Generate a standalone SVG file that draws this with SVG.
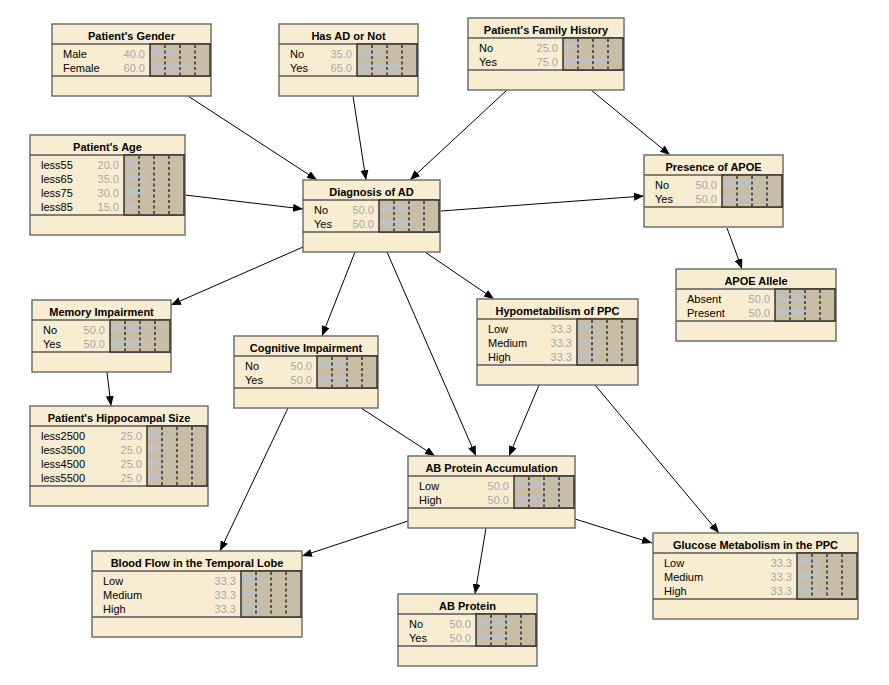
<svg xmlns="http://www.w3.org/2000/svg" width="889" height="685" viewBox="0 0 889 685">
<defs>
<style>
.box{fill:#f8edd1;stroke:#707070;stroke-width:1.5}
.sep{stroke:#5a5a5a;stroke-width:1.5}
.bb{fill:#c8bea6;stroke:#333;stroke-width:1.5}
.bar{fill:#c0c0c0}
.dash{stroke:#333;stroke-width:1.5;stroke-dasharray:3 2.5}
.t{font-family:"Liberation Sans",Arial,sans-serif;font-size:11px;font-weight:bold;fill:#000;text-anchor:middle}
.l{font-family:"Liberation Sans",Arial,sans-serif;font-size:11px;fill:#000}
.v{font-family:"Liberation Sans",Arial,sans-serif;font-size:11px;fill:#a8a8a8;text-anchor:end}
.e{stroke:#000;stroke-width:1;fill:none;marker-end:url(#ah)}
</style>
<marker id="ah" markerUnits="userSpaceOnUse" markerWidth="10" markerHeight="8" viewBox="0 0 10 8" refX="10" refY="4" orient="auto">
<path d="M0,0 L10,4 L0,8 z" fill="#000"/>
</marker>
</defs>
<rect width="889" height="685" fill="#fff"/>
<g id="connectors">
<line class="e" x1="188" y1="96" x2="317" y2="180"/>
<line class="e" x1="353" y1="96" x2="366" y2="180"/>
<line class="e" x1="507" y1="90" x2="410" y2="180"/>
<line class="e" x1="591" y1="90" x2="670" y2="155"/>
<line class="e" x1="185" y1="195" x2="303" y2="209"/>
<line class="e" x1="441" y1="211" x2="644" y2="196"/>
<line class="e" x1="727" y1="228" x2="742" y2="269"/>
<line class="e" x1="303" y1="247" x2="171" y2="305"/>
<line class="e" x1="355" y1="252" x2="322" y2="336"/>
<line class="e" x1="387" y1="252" x2="476" y2="456"/>
<line class="e" x1="425" y1="252" x2="494" y2="299"/>
<line class="e" x1="107" y1="372" x2="111" y2="406"/>
<line class="e" x1="361" y1="408" x2="435" y2="456"/>
<line class="e" x1="288" y1="408" x2="220" y2="551"/>
<line class="e" x1="539" y1="385" x2="509" y2="456"/>
<line class="e" x1="595" y1="385" x2="719" y2="533"/>
<line class="e" x1="408" y1="521" x2="302" y2="556"/>
<line class="e" x1="486" y1="528" x2="475" y2="594"/>
<line class="e" x1="575" y1="519" x2="652" y2="543"/>
</g>

<g id="gender">
<rect class="box" x="52" y="24" width="159" height="72"/>
<line class="sep" x1="52" y1="44" x2="211" y2="44"/>
<line class="sep" x1="52" y1="76" x2="211" y2="76"/>
<rect class="bb" x="150" y="44" width="60" height="32"/>
<rect class="bar" x="151" y="49" width="24" height="7"/>
<rect class="bar" x="151" y="63" width="36" height="7"/>
<line class="dash" x1="165" y1="45" x2="165" y2="75"/><line class="dash" x1="180" y1="45" x2="180" y2="75"/><line class="dash" x1="195" y1="45" x2="195" y2="75"/>
<text class="t" x="131.5" y="39.5">Patient's Gender</text>
<text class="l" x="63" y="57.5">Male</text><text class="v" x="145" y="57.5">40.0</text>
<text class="l" x="63" y="71.5">Female</text><text class="v" x="145" y="71.5">60.0</text>
</g>

<g id="hasad">
<rect class="box" x="279" y="24" width="139" height="72"/>
<line class="sep" x1="279" y1="44" x2="418" y2="44"/>
<line class="sep" x1="279" y1="76" x2="418" y2="76"/>
<rect class="bb" x="357" y="44" width="60" height="32"/>
<rect class="bar" x="358" y="49" width="21" height="7"/>
<rect class="bar" x="358" y="63" width="39" height="7"/>
<line class="dash" x1="372" y1="45" x2="372" y2="75"/><line class="dash" x1="387" y1="45" x2="387" y2="75"/><line class="dash" x1="402" y1="45" x2="402" y2="75"/>
<text class="t" x="348.5" y="39.5">Has AD or Not</text>
<text class="l" x="290" y="57.5">No</text><text class="v" x="352" y="57.5">35.0</text>
<text class="l" x="290" y="71.5">Yes</text><text class="v" x="352" y="71.5">65.0</text>
</g>

<g id="family">
<rect class="box" x="468" y="18" width="156" height="72"/>
<line class="sep" x1="468" y1="38" x2="624" y2="38"/>
<line class="sep" x1="468" y1="70" x2="624" y2="70"/>
<rect class="bb" x="563" y="38" width="60" height="32"/>
<rect class="bar" x="564" y="43" width="15" height="7"/>
<rect class="bar" x="564" y="57" width="45" height="7"/>
<line class="dash" x1="578" y1="39" x2="578" y2="69"/><line class="dash" x1="593" y1="39" x2="593" y2="69"/><line class="dash" x1="608" y1="39" x2="608" y2="69"/>
<text class="t" x="546" y="33.5">Patient's Family History</text>
<text class="l" x="479" y="51.5">No</text><text class="v" x="558" y="51.5">25.0</text>
<text class="l" x="479" y="65.5">Yes</text><text class="v" x="558" y="65.5">75.0</text>
</g>

<g id="age">
<rect class="box" x="30" y="135" width="155" height="100"/>
<line class="sep" x1="30" y1="155" x2="185" y2="155"/>
<line class="sep" x1="30" y1="215" x2="185" y2="215"/>
<rect class="bb" x="124" y="155" width="60" height="60"/>
<rect class="bar" x="125" y="160" width="12" height="7"/>
<rect class="bar" x="125" y="174" width="21" height="7"/>
<rect class="bar" x="125" y="188" width="18" height="7"/>
<rect class="bar" x="125" y="202" width="9" height="7"/>
<line class="dash" x1="139" y1="156" x2="139" y2="214"/><line class="dash" x1="154" y1="156" x2="154" y2="214"/><line class="dash" x1="169" y1="156" x2="169" y2="214"/>
<text class="t" x="107.5" y="150.5">Patient's Age</text>
<text class="l" x="41" y="168.5">less55</text><text class="v" x="119" y="168.5">20.0</text>
<text class="l" x="41" y="182.5">less65</text><text class="v" x="119" y="182.5">35.0</text>
<text class="l" x="41" y="196.5">less75</text><text class="v" x="119" y="196.5">30.0</text>
<text class="l" x="41" y="210.5">less85</text><text class="v" x="119" y="210.5">15.0</text>
</g>

<g id="diagnosis">
<rect class="box" x="303" y="180" width="137" height="72"/>
<line class="sep" x1="303" y1="200" x2="440" y2="200"/>
<line class="sep" x1="303" y1="232" x2="440" y2="232"/>
<rect class="bb" x="379" y="200" width="60" height="32"/>
<rect class="bar" x="380" y="205" width="30" height="7"/>
<rect class="bar" x="380" y="219" width="30" height="7"/>
<line class="dash" x1="394" y1="201" x2="394" y2="231"/><line class="dash" x1="409" y1="201" x2="409" y2="231"/><line class="dash" x1="424" y1="201" x2="424" y2="231"/>
<text class="t" x="371.5" y="195.5">Diagnosis of AD</text>
<text class="l" x="314" y="213.5">No</text><text class="v" x="374" y="213.5">50.0</text>
<text class="l" x="314" y="227.5">Yes</text><text class="v" x="374" y="227.5">50.0</text>
</g>

<g id="presence-apoe">
<rect class="box" x="644" y="155" width="139" height="72"/>
<line class="sep" x1="644" y1="175" x2="783" y2="175"/>
<line class="sep" x1="644" y1="207" x2="783" y2="207"/>
<rect class="bb" x="722" y="175" width="60" height="32"/>
<rect class="bar" x="723" y="180" width="30" height="7"/>
<rect class="bar" x="723" y="194" width="30" height="7"/>
<line class="dash" x1="737" y1="176" x2="737" y2="206"/><line class="dash" x1="752" y1="176" x2="752" y2="206"/><line class="dash" x1="767" y1="176" x2="767" y2="206"/>
<text class="t" x="713.5" y="170.5">Presence of APOE</text>
<text class="l" x="655" y="188.5">No</text><text class="v" x="717" y="188.5">50.0</text>
<text class="l" x="655" y="202.5">Yes</text><text class="v" x="717" y="202.5">50.0</text>
</g>

<g id="apoe-allele">
<rect class="box" x="676" y="269" width="160" height="72"/>
<line class="sep" x1="676" y1="289" x2="836" y2="289"/>
<line class="sep" x1="676" y1="321" x2="836" y2="321"/>
<rect class="bb" x="775" y="289" width="60" height="32"/>
<rect class="bar" x="776" y="294" width="30" height="7"/>
<rect class="bar" x="776" y="308" width="30" height="7"/>
<line class="dash" x1="790" y1="290" x2="790" y2="320"/><line class="dash" x1="805" y1="290" x2="805" y2="320"/><line class="dash" x1="820" y1="290" x2="820" y2="320"/>
<text class="t" x="756" y="284.5">APOE Allele</text>
<text class="l" x="687" y="302.5">Absent</text><text class="v" x="770" y="302.5">50.0</text>
<text class="l" x="687" y="316.5">Present</text><text class="v" x="770" y="316.5">50.0</text>
</g>

<g id="memory">
<rect class="box" x="32" y="300" width="139" height="72"/>
<line class="sep" x1="32" y1="320" x2="171" y2="320"/>
<line class="sep" x1="32" y1="352" x2="171" y2="352"/>
<rect class="bb" x="110" y="320" width="60" height="32"/>
<rect class="bar" x="111" y="325" width="30" height="7"/>
<rect class="bar" x="111" y="339" width="30" height="7"/>
<line class="dash" x1="125" y1="321" x2="125" y2="351"/><line class="dash" x1="140" y1="321" x2="140" y2="351"/><line class="dash" x1="155" y1="321" x2="155" y2="351"/>
<text class="t" x="101.5" y="315.5">Memory Impairment</text>
<text class="l" x="43" y="333.5">No</text><text class="v" x="105" y="333.5">50.0</text>
<text class="l" x="43" y="347.5">Yes</text><text class="v" x="105" y="347.5">50.0</text>
</g>

<g id="cognitive">
<rect class="box" x="234" y="336" width="144" height="72"/>
<line class="sep" x1="234" y1="356" x2="378" y2="356"/>
<line class="sep" x1="234" y1="388" x2="378" y2="388"/>
<rect class="bb" x="317" y="356" width="60" height="32"/>
<rect class="bar" x="318" y="361" width="30" height="7"/>
<rect class="bar" x="318" y="375" width="30" height="7"/>
<line class="dash" x1="332" y1="357" x2="332" y2="387"/><line class="dash" x1="347" y1="357" x2="347" y2="387"/><line class="dash" x1="362" y1="357" x2="362" y2="387"/>
<text class="t" x="306" y="351.5">Cognitive Impairment</text>
<text class="l" x="245" y="369.5">No</text><text class="v" x="312" y="369.5">50.0</text>
<text class="l" x="245" y="383.5">Yes</text><text class="v" x="312" y="383.5">50.0</text>
</g>

<g id="hypometabolism">
<rect class="box" x="477" y="299" width="161" height="86"/>
<line class="sep" x1="477" y1="319" x2="638" y2="319"/>
<line class="sep" x1="477" y1="365" x2="638" y2="365"/>
<rect class="bb" x="577" y="319" width="60" height="46"/>
<rect class="bar" x="578" y="324" width="20" height="7"/>
<rect class="bar" x="578" y="338" width="20" height="7"/>
<rect class="bar" x="578" y="352" width="20" height="7"/>
<line class="dash" x1="592" y1="320" x2="592" y2="364"/><line class="dash" x1="607" y1="320" x2="607" y2="364"/><line class="dash" x1="622" y1="320" x2="622" y2="364"/>
<text class="t" x="557.5" y="314.5">Hypometabilism of PPC</text>
<text class="l" x="488" y="332.5">Low</text><text class="v" x="572" y="332.5">33.3</text>
<text class="l" x="488" y="346.5">Medium</text><text class="v" x="572" y="346.5">33.3</text>
<text class="l" x="488" y="360.5">High</text><text class="v" x="572" y="360.5">33.3</text>
</g>

<g id="hippocampal">
<rect class="box" x="30" y="406" width="178" height="100"/>
<line class="sep" x1="30" y1="426" x2="208" y2="426"/>
<line class="sep" x1="30" y1="486" x2="208" y2="486"/>
<rect class="bb" x="147" y="426" width="60" height="60"/>
<rect class="bar" x="148" y="431" width="15" height="7"/>
<rect class="bar" x="148" y="445" width="15" height="7"/>
<rect class="bar" x="148" y="459" width="15" height="7"/>
<rect class="bar" x="148" y="473" width="15" height="7"/>
<line class="dash" x1="162" y1="427" x2="162" y2="485"/><line class="dash" x1="177" y1="427" x2="177" y2="485"/><line class="dash" x1="192" y1="427" x2="192" y2="485"/>
<text class="t" x="119" y="421.5">Patient's Hippocampal Size</text>
<text class="l" x="41" y="439.5">less2500</text><text class="v" x="142" y="439.5">25.0</text>
<text class="l" x="41" y="453.5">less3500</text><text class="v" x="142" y="453.5">25.0</text>
<text class="l" x="41" y="467.5">less4500</text><text class="v" x="142" y="467.5">25.0</text>
<text class="l" x="41" y="481.5">less5500</text><text class="v" x="142" y="481.5">25.0</text>
</g>

<g id="ab-accumulation">
<rect class="box" x="408" y="456" width="167" height="72"/>
<line class="sep" x1="408" y1="476" x2="575" y2="476"/>
<line class="sep" x1="408" y1="508" x2="575" y2="508"/>
<rect class="bb" x="514" y="476" width="60" height="32"/>
<rect class="bar" x="515" y="481" width="30" height="7"/>
<rect class="bar" x="515" y="495" width="30" height="7"/>
<line class="dash" x1="529" y1="477" x2="529" y2="507"/><line class="dash" x1="544" y1="477" x2="544" y2="507"/><line class="dash" x1="559" y1="477" x2="559" y2="507"/>
<text class="t" x="491.5" y="471.5">AB Protein Accumulation</text>
<text class="l" x="419" y="489.5">Low</text><text class="v" x="509" y="489.5">50.0</text>
<text class="l" x="419" y="503.5">High</text><text class="v" x="509" y="503.5">50.0</text>
</g>

<g id="blood-flow">
<rect class="box" x="92" y="551" width="210" height="86"/>
<line class="sep" x1="92" y1="571" x2="302" y2="571"/>
<line class="sep" x1="92" y1="617" x2="302" y2="617"/>
<rect class="bb" x="241" y="571" width="60" height="46"/>
<rect class="bar" x="242" y="576" width="20" height="7"/>
<rect class="bar" x="242" y="590" width="20" height="7"/>
<rect class="bar" x="242" y="604" width="20" height="7"/>
<line class="dash" x1="256" y1="572" x2="256" y2="616"/><line class="dash" x1="271" y1="572" x2="271" y2="616"/><line class="dash" x1="286" y1="572" x2="286" y2="616"/>
<text class="t" x="197" y="566.5">Blood Flow in the Temporal Lobe</text>
<text class="l" x="103" y="584.5">Low</text><text class="v" x="236" y="584.5">33.3</text>
<text class="l" x="103" y="598.5">Medium</text><text class="v" x="236" y="598.5">33.3</text>
<text class="l" x="103" y="612.5">High</text><text class="v" x="236" y="612.5">33.3</text>
</g>

<g id="glucose">
<rect class="box" x="653" y="533" width="205" height="86"/>
<line class="sep" x1="653" y1="553" x2="858" y2="553"/>
<line class="sep" x1="653" y1="599" x2="858" y2="599"/>
<rect class="bb" x="797" y="553" width="60" height="46"/>
<rect class="bar" x="798" y="558" width="20" height="7"/>
<rect class="bar" x="798" y="572" width="20" height="7"/>
<rect class="bar" x="798" y="586" width="20" height="7"/>
<line class="dash" x1="812" y1="554" x2="812" y2="598"/><line class="dash" x1="827" y1="554" x2="827" y2="598"/><line class="dash" x1="842" y1="554" x2="842" y2="598"/>
<text class="t" x="755.5" y="548.5">Glucose Metabolism in the PPC</text>
<text class="l" x="664" y="566.5">Low</text><text class="v" x="792" y="566.5">33.3</text>
<text class="l" x="664" y="580.5">Medium</text><text class="v" x="792" y="580.5">33.3</text>
<text class="l" x="664" y="594.5">High</text><text class="v" x="792" y="594.5">33.3</text>
</g>

<g id="ab-protein">
<rect class="box" x="398" y="594" width="139" height="72"/>
<line class="sep" x1="398" y1="614" x2="537" y2="614"/>
<line class="sep" x1="398" y1="646" x2="537" y2="646"/>
<rect class="bb" x="476" y="614" width="60" height="32"/>
<rect class="bar" x="477" y="619" width="30" height="7"/>
<rect class="bar" x="477" y="633" width="30" height="7"/>
<line class="dash" x1="491" y1="615" x2="491" y2="645"/><line class="dash" x1="506" y1="615" x2="506" y2="645"/><line class="dash" x1="521" y1="615" x2="521" y2="645"/>
<text class="t" x="467.5" y="609.5">AB Protein</text>
<text class="l" x="409" y="627.5">No</text><text class="v" x="471" y="627.5">50.0</text>
<text class="l" x="409" y="641.5">Yes</text><text class="v" x="471" y="641.5">50.0</text>
</g>
</svg>
